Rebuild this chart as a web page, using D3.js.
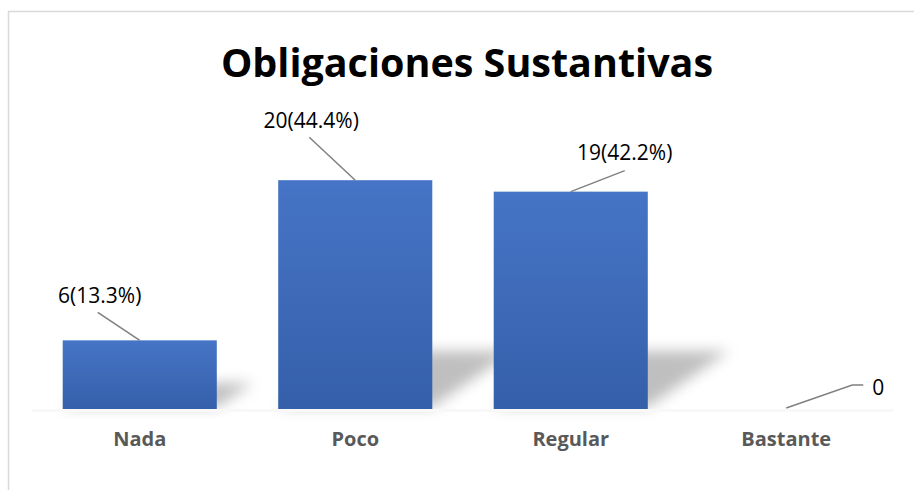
<!DOCTYPE html>
<html>
<head>
<meta charset="utf-8">
<script src="https://cdn.jsdelivr.net/npm/d3@7"></script>
<style>
  body { margin: 0; background: #fff; }
  svg { display: block; }
</style>
</head>
<body>
<div id="chart"></div>
<script>
const title = "Obligaciones Sustantivas";
const categories = ["Nada", "Poco", "Regular", "Bastante"];
const counts = [6, 20, 19, 0];
const labels = ["6(13.3%)", "20(44.4%)", "19(42.2%)", "0"];
// where each data label sits, as an offset from the bar's top centre (dx, dy)
const labelOffsets = [[-40, -37], [-44, -52], [54, -32], [86, -14]];

const width = 914, height = 490;

const svg = d3.select("#chart").append("svg")
    .attr("width", width)
    .attr("height", height);

// chart area border
svg.append("rect")
    .attr("x", 8.5).attr("y", 11.5)
    .attr("width", 930).attr("height", 500)
    .attr("fill", "#fff")
    .attr("stroke", "#d9d9d9")
    .attr("stroke-width", 1.5);

const defs = svg.append("defs");
const grad = defs.append("linearGradient")
    .attr("id", "barGrad")
    .attr("x1", 0).attr("y1", 0).attr("x2", 0).attr("y2", 1);
grad.append("stop").attr("offset", "0%").attr("stop-color", "#4674c6");
grad.append("stop").attr("offset", "100%").attr("stop-color", "#355fa9");

defs.append("filter")
    .attr("id", "blur")
    .attr("x", "-50%").attr("y", "-50%").attr("width", "200%").attr("height", "200%")
  .append("feGaussianBlur")
    .attr("stdDeviation", 7);

const x = d3.scaleBand()
    .domain(categories)
    .range([32, 894])
    .paddingInner(0.285)
    .paddingOuter(0.1425);

const y = d3.scaleLinear()
    .domain([0, 25])
    .range([409, 123]);

const data = categories.map((c, i) => ({ cat: c, value: counts[i], label: labels[i], off: labelOffsets[i] }));

// perspective shadows cast back and to the right of the bars
svg.append("g")
    .selectAll("path")
    .data(data.filter(d => d.value > 0))
    .join("path")
    .attr("d", d => {
        const x0 = x(d.cat), x1 = x0 + x.bandwidth(), b = y(0);
        const h = b - y(d.value);
        const sh = Math.min(Math.max(h * 0.27, 26), 58), dx = sh * 1.4;
        return `M${x0},${b - 2} L${x1},${b - 2} L${x1 + dx},${b - sh} L${x0 + dx},${b - sh} Z`;
    })
    .attr("fill", "#000")
    .attr("fill-opacity", 0.25)
    .attr("filter", "url(#blur)");

// very faint floor
svg.append("line")
    .attr("x1", 32).attr("x2", 894)
    .attr("y1", y(0) + 1.5).attr("y2", y(0) + 1.5)
    .attr("stroke", "#f8f8f8")
    .attr("stroke-width", 3);

svg.append("g")
    .selectAll("rect")
    .data(data)
    .join("rect")
    .attr("x", d => x(d.cat))
    .attr("y", d => y(d.value))
    .attr("width", x.bandwidth())
    .attr("height", d => y(0) - y(d.value))
    .attr("fill", "url(#barGrad)");

// leader lines
svg.append("g")
    .selectAll("polyline")
    .data(data)
    .join("polyline")
    .attr("points", d => {
        const cx = x(d.cat) + x.bandwidth() / 2, ty = y(d.value);
        const lx = cx + d.off[0], ly = ty + d.off[1];
        if (d.value === 0) return `${cx},${ty - 1} ${lx - 20},${ty - 24} ${lx - 9},${ty - 24}`;
        if (d.off[0] > 0) return `${cx},${ty} ${lx},${ty - 21}`;
        return `${cx},${ty} ${lx - 2},${ly + 9}`;
    })
    .attr("fill", "none")
    .attr("stroke", "#808080")
    .attr("stroke-width", 1.5);

// data labels
svg.append("g")
    .selectAll("text")
    .data(data)
    .join("text")
    .attr("x", d => x(d.cat) + x.bandwidth() / 2 + d.off[0])
    .attr("y", d => y(d.value) + d.off[1])
    .attr("text-anchor", d => d.value === 0 ? "start" : "middle")
    .attr("font-family", "'Open Sans', sans-serif")
    .attr("font-size", 21)
    .attr("fill", "#000")
    .text(d => d.label);

// category axis labels
svg.append("g")
    .selectAll("text")
    .data(categories)
    .join("text")
    .attr("x", d => x(d) + x.bandwidth() / 2)
    .attr("y", 446)
    .attr("text-anchor", "middle")
    .attr("font-family", "'Open Sans', sans-serif")
    .attr("font-weight", "bold")
    .attr("font-size", 20)
    .attr("fill", "#595959")
    .text(d => d);

svg.append("text")
    .attr("x", 467)
    .attr("y", 77)
    .attr("text-anchor", "middle")
    .attr("font-family", "'Open Sans', sans-serif")
    .attr("font-weight", "bold")
    .attr("font-size", 39.5)
    .attr("fill", "#000")
    .text(title);
</script>
</body>
</html>
